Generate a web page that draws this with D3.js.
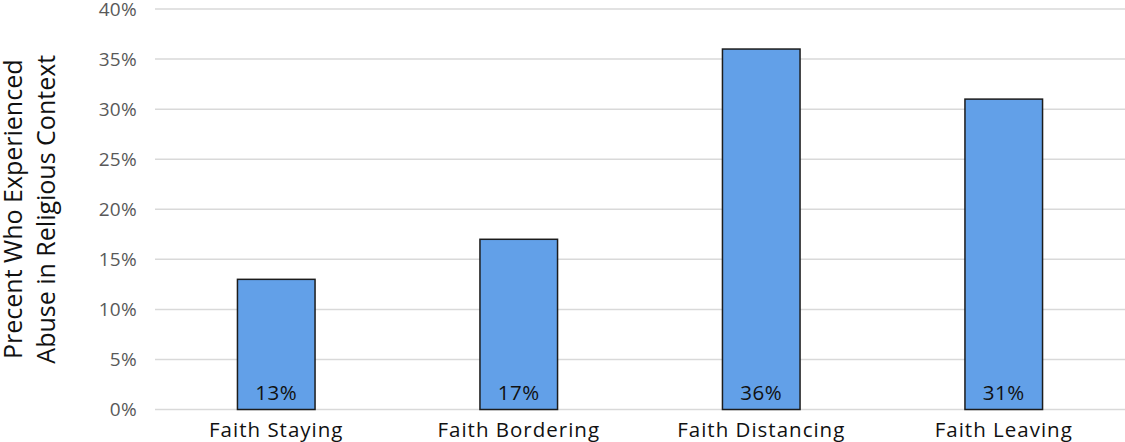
<!DOCTYPE html>
<html>
<head>
<meta charset="utf-8">
<script src="https://cdn.jsdelivr.net/npm/d3@7"></script>
<style>
  body { margin: 0; background: #fff; }
  svg text { font-family: "Open Sans", Lato, sans-serif; }
  .grid-line { stroke: #d9d9d9; stroke-width: 1.5; }
  .y-axis text { fill: #595959; font-size: 19px; letter-spacing: 0.3px; }
  .x-axis text { fill: #111; font-size: 20.5px; letter-spacing: 1px; }
</style>
</head>
<body>
<script>
const width = 1125, height = 442;
const margin = {top: 9, right: 0, bottom: 32, left: 155};

const categories = ['Faith Staying', 'Faith Bordering', 'Faith Distancing', 'Faith Leaving'];
const values = [13, 17, 36, 31];
const yTicks = [0, 5, 10, 15, 20, 25, 30, 35, 40];
const yTitle = ['Precent Who Experienced', 'Abuse in Religious Context'];

const svg = d3.select('body').append('svg')
    .attr('width', width)
    .attr('height', height);

const x = d3.scaleBand()
    .domain(categories)
    .range([margin.left, width - margin.right])
    .paddingInner(0.68)
    .paddingOuter(0.34);

const y = d3.scaleLinear()
    .domain([0, 40])
    .range([height - margin.bottom - 0.5, margin.top]);

// gridlines
svg.append('g')
    .selectAll('line')
    .data(yTicks)
    .join('line')
    .classed('grid-line', true)
    .attr('x1', margin.left)
    .attr('x2', width - margin.right)
    .attr('y1', d => y(d))
    .attr('y2', d => y(d));

// y axis labels
svg.append('g')
    .attr('class', 'y-axis')
    .attr('transform', 'translate(' + (margin.left - 18) + ',0)')
    .call(d3.axisLeft(y).tickValues(yTicks).tickFormat(d => d + '%').tickSize(0).tickPadding(0))
    .call(g => g.select('.domain').remove());

// bars
svg.append('g')
    .selectAll('rect')
    .data(values)
    .join('rect')
    .attr('x', (d, i) => x(categories[i]))
    .attr('y', d => y(d))
    .attr('width', x.bandwidth())
    .attr('height', d => y(0) - y(d))
    .attr('fill', '#62a0e8')
    .attr('stroke', '#1c1c1c')
    .attr('stroke-width', 1.5);

// value labels inside bars
svg.append('g')
    .selectAll('text')
    .data(values)
    .join('text')
    .attr('x', (d, i) => x(categories[i]) + x.bandwidth() / 2)
    .attr('y', y(0) - 9.5)
    .attr('text-anchor', 'middle')
    .attr('font-size', 20.5)
    .attr('letter-spacing', 0.5)
    .attr('fill', '#111')
    .text(d => d + '%');

// x axis labels
svg.append('g')
    .attr('class', 'x-axis')
    .attr('transform', 'translate(0,' + y(0) + ')')
    .call(d3.axisBottom(x).tickSize(0).tickPadding(13))
    .call(g => g.select('.domain').remove());

// y title
svg.append('text')
    .attr('transform', 'translate(0,' + (y(20)) + ') rotate(-90)')
    .attr('text-anchor', 'middle')
    .attr('font-size', 25)
    .attr('fill', '#111')
    .selectAll('tspan')
    .data(yTitle)
    .join('tspan')
    .attr('x', 0)
    .attr('y', (d, i) => 22 + i * 33)
    .text(d => d);
</script>
</body>
</html>
